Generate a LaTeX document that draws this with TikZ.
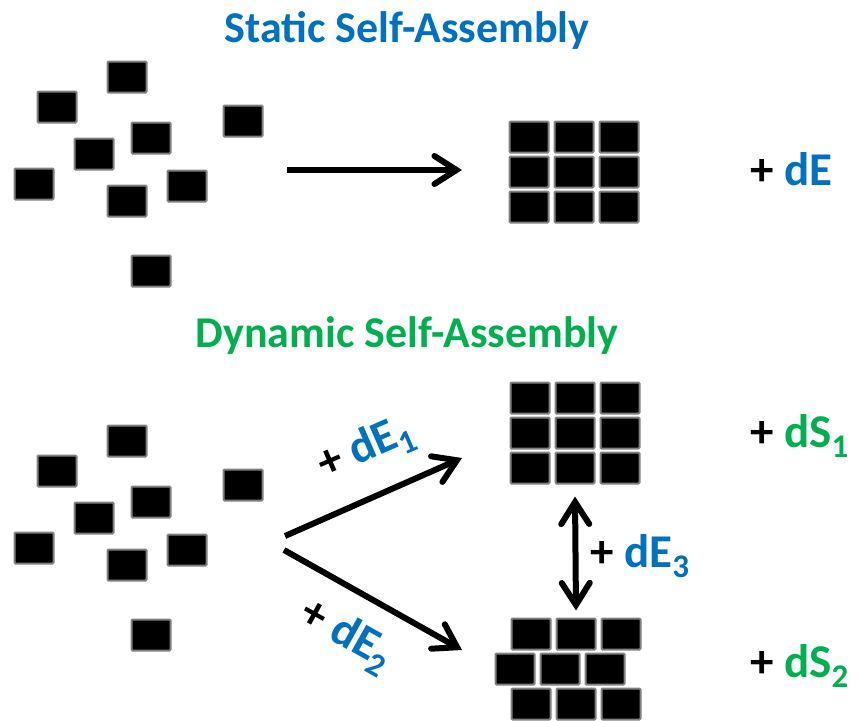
\documentclass[tikz,border=0pt]{standalone}
\usepackage{fontspec}
\setmainfont{Carlito}
\usetikzlibrary{positioning, arrows.meta}
\definecolor{sblue}{HTML}{0070C0}
\definecolor{dgreen}{HTML}{00B050}
\newcommand{\low}[1]{\raisebox{-0.22em}{\fontsize{33}{33}\selectfont #1}}

\begin{document}
\begin{tikzpicture}[x=1pt, y=-1pt, node distance=2pt and 4pt,
		blk/.style={draw=gray, fill=black, line width=2pt, rounded corners=1pt, minimum width=39pt, minimum height=31pt, inner sep=0pt},
		lbl/.style={font=\bfseries\fontsize{47}{50}\selectfont, inner sep=0pt},
		ttl/.style={font=\bfseries\fontsize{44}{48}\selectfont, inner sep=0pt, anchor=base},
		arr/.style={line width=6pt, -{Straight Barb[length=22pt, width=28pt, line cap=round]}},
		dbl/.style={line width=6pt, {Straight Barb[length=22pt, width=28pt, line cap=round]}-{Straight Barb[length=22pt, width=28pt, line cap=round]}}]
		\useasboundingbox (0,0) rectangle (858,720);
		
		\node[ttl, text=sblue]  (st)  at (407,42)  {Static Self-Assembly};
		\node[ttl, text=dgreen] (dy)  at (407,347) {Dynamic Self-Assembly};
		
		% scattered blocks, static
		\node[blk] (s1) at (127,77)  {};
		\node[blk] (s2) at (57,107)  {};
		\node[blk] (s3) at (243,121) {};
		\node[blk] (s4) at (151,138) {};
		\node[blk] (s5) at (94,154)  {};
		\node[blk] (s6) at (34,184)  {};
		\node[blk] (s7) at (187,186) {};
		\node[blk] (s8) at (127,201) {};
		\node[blk] (s9) at (151,271) {};
		
		% scattered blocks, dynamic
		\node[blk] (d1) at (127,441) {};
		\node[blk] (d2) at (57,471)  {};
		\node[blk] (d3) at (243,485) {};
		\node[blk] (d4) at (151,502) {};
		\node[blk] (d5) at (94,518)  {};
		\node[blk] (d6) at (34,548)  {};
		\node[blk] (d7) at (187,550) {};
		\node[blk] (d8) at (127,565) {};
		\node[blk] (d9) at (151,635) {};
		
		% static grid
		\node[blk] (g1) at (529,137) {};
		\node[blk, right=of g1] (g2) {};
		\node[blk, right=of g2] (g3) {};
		\node[blk, below=of g1] (g4) {};
		\node[blk, right=of g4] (g5) {};
		\node[blk, right=of g5] (g6) {};
		\node[blk, below=of g4] (g7) {};
		\node[blk, right=of g7] (g8) {};
		\node[blk, right=of g8] (g9) {};
		
		% dynamic grid
		\node[blk] (c1) at (530,398) {};
		\node[blk, right=of c1] (c2) {};
		\node[blk, right=of c2] (c3) {};
		\node[blk, below=of c1] (c4) {};
		\node[blk, right=of c4] (c5) {};
		\node[blk, right=of c5] (c6) {};
		\node[blk, below=of c4] (c7) {};
		\node[blk, right=of c7] (c8) {};
		\node[blk, right=of c8] (c9) {};
		
		% bricks
		\node[blk] (b1) at (531,634) {};
		\node[blk, right=of b1] (b2) {};
		\node[blk, right=of b2] (b3) {};
		\node[blk] (b4) at (515,669) {};
		\node[blk, right=of b4] (b5) {};
		\node[blk, right=of b5] (b6) {};
		\node[blk] (b7) at (531,704) {};
		\node[blk, right=of b7] (b8) {};
		\node[blk, right=of b8] (b9) {};
		
		\coordinate (a0) at (287,170);
		\coordinate (a1) at (462,170);
		\coordinate (u0) at (285,536);
		\coordinate (u1) at (462,458);
		\coordinate (l0) at (284,550);
		\coordinate (l1) at (462,650);
		
		\draw[arr] (a0) -- (a1);
		\draw[arr] (u0) -- (u1);
		\draw[arr] (l0) -- (l1);
		\draw[dbl] ([yshift=-12pt]c8.south) -- ([yshift=7pt]b2.north);
		
		\node[lbl, anchor=base west] (e0) at (750,185) {+ \textcolor{sblue}{dE}};
		\node[lbl, anchor=base west] (s1l) at (750,447) {+ \textcolor{dgreen}{dS\low{1}}};
		\node[lbl, anchor=base west] (s2l) at (750,677) {+ \textcolor{dgreen}{dS\low{2}}};
		\node[lbl, anchor=base west] (e3) at (590,567) {+ \textcolor{sblue}{dE\low{3}}};
		\node[lbl, rotate=23.5]  (e1) at (366,449) {+ \textcolor{sblue}{dE\low{1}}};
		\node[lbl, rotate=-29.3] (e2) at (346,636) {+ \textcolor{sblue}{dE\low{2}}};
	\end{tikzpicture}
\end{document}
